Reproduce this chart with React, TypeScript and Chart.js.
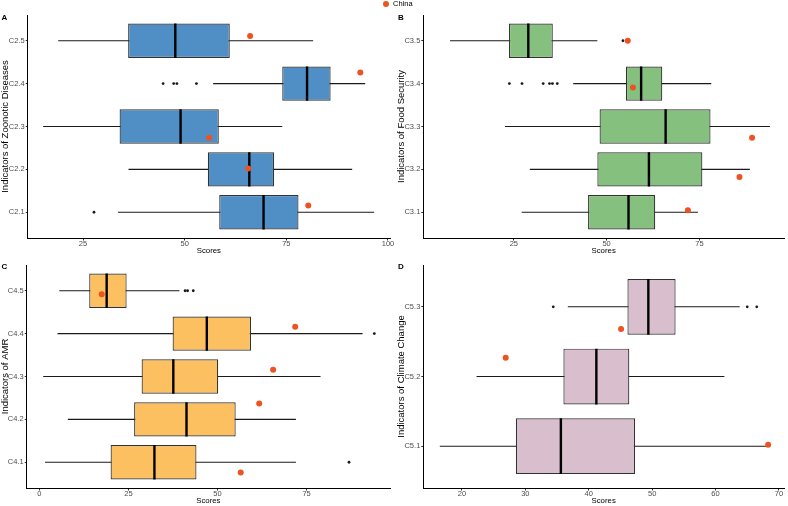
import React, { useEffect, useRef } from "react";
import { Chart, registerables } from "chart.js";
Chart.register(...registerables);

// ---------- Panel A: Zoonotic Diseases ----------
const catsA = ["C2.1", "C2.2", "C2.3", "C2.4", "C2.5"];
const lowA = [33.6, 36.2, 15.2, 57.0, 18.9];
const q1A = [58.5, 55.7, 34.0, 74.0, 36.1];
const medA = [69.4, 65.9, 49.0, 80.1, 47.7];
const q3A = [78.0, 72.0, 58.4, 85.9, 61.1];
const highA = [96.6, 91.2, 74.0, 94.4, 81.6];
const outA = [[27.7], [], [], [44.7, 47.3, 48.1, 52.9], []];
const chinaA = [80.4, 65.6, 56.0, 93.2, 66.1];
const jitA = [0.16, 0.02, -0.26, 0.26, 0.11];
const ticksA = [25, 50, 75, 100];

// ---------- Panel B: Food Security ----------
const catsB = ["C3.1", "C3.2", "C3.3", "C3.4", "C3.5"];
const lowB = [27.1, 29.3, 22.6, 41.0, 7.8];
const q1B = [45.0, 47.5, 48.1, 55.2, 23.7];
const medB = [55.9, 61.4, 65.9, 59.3, 28.9];
const q3B = [63.1, 75.8, 78.0, 65.0, 35.5];
const highB = [74.6, 88.6, 94.0, 78.2, 47.5];
const outB = [[], [], [], [23.8, 27.2, 32.9, 34.6, 35.4, 36.7], [54.4]];
const chinaB = [71.9, 85.8, 89.2, 57.1, 55.7];
const jitB = [0.05, -0.18, -0.26, -0.09, 0];
const ticksB = [25, 50, 75];

// ---------- Panel C: AMR ----------
const catsC = ["C4.1", "C4.2", "C4.3", "C4.4", "C4.5"];
const lowC = [1.6, 8.0, 1.1, 5.1, 5.6];
const q1C = [20.0, 26.6, 28.7, 37.4, 14.0];
const medC = [32.3, 41.3, 37.6, 47.0, 18.9];
const q3C = [44.1, 55.1, 50.2, 59.4, 24.5];
const highC = [72.0, 72.0, 78.9, 90.7, 39.3];
const outC = [[86.9], [], [], [94.0], [40.9, 41.6, 43.2]];
const chinaC = [56.5, 61.7, 65.6, 71.8, 17.5];
const jitC = [-0.24, 0.37, 0.16, 0.16, -0.08];
const ticksC = [0, 25, 50, 75];

// ---------- Panel D: Climate Change ----------
const catsD = ["C5.1", "C5.2", "C5.3"];
const lowD = [16.5, 22.3, 36.7];
const q1D = [28.5, 36.0, 46.1];
const medD = [35.6, 41.2, 49.4];
const q3D = [47.3, 46.4, 53.7];
const highD = [68.3, 61.4, 63.8];
const outD = [[], [], [34.4, 65.0, 66.5]];
const chinaD = [68.3, 26.9, 45.1];
const jitD = [0.02, 0.27, -0.32];
const ticksD = [20, 30, 40, 50, 60, 70];

const FONT = "'Liberation Sans', Arial, Helvetica, sans-serif";
const CHINA_COLOR = "#EC5321";

type Panel = {
  label: string;
  cats: string[];
  low: number[];
  q1: number[];
  med: number[];
  q3: number[];
  high: number[];
  out: number[][];
  china: number[];
  jit: number[];
  xTicks: number[];
  fill: string;
  title: string;
  xMin: number;
  xMax: number;
  left: number;
  top: number;
  width: number;
  height: number;
  pad: { left: number; top: number; right: number; bottom: number };
  yW: number;
  xH: number;
};

const panels: Panel[] = [
  {
    label: "A", cats: catsA, low: lowA, q1: q1A, med: medA, q3: q3A, high: highA, out: outA,
    china: chinaA, jit: jitA, xTicks: ticksA, fill: "#4F8FC6", title: "Indicators of Zoonotic Diseases",
    xMin: 11.4, xMax: 100.5, left: 0, top: 0, width: 394, height: 256,
    pad: { left: 0, top: 15, right: 3.5, bottom: 0 }, yW: 27.7, xH: 18,
  },
  {
    label: "B", cats: catsB, low: lowB, q1: q1B, med: medB, q3: q3B, high: highB, out: outB,
    china: chinaB, jit: jitB, xTicks: ticksB, fill: "#86C07E", title: "Indicators of Food Security",
    xMin: 0.6, xMax: 97.8, left: 396, top: 0, width: 392, height: 256,
    pad: { left: 0, top: 15, right: 3, bottom: 0 }, yW: 27.3, xH: 18,
  },
  {
    label: "C", cats: catsC, low: lowC, q1: q1C, med: medC, q3: q3C, high: highC, out: outC,
    china: chinaC, jit: jitC, xTicks: ticksC, fill: "#FDC060", title: "Indicators of AMR",
    xMin: -3.54, xMax: 98.4, left: 0, top: 257, width: 394, height: 249,
    pad: { left: 0, top: 8, right: 4, bottom: 0 }, yW: 26.7, xH: 18,
  },
  {
    label: "D", cats: catsD, low: lowD, q1: q1D, med: medD, q3: q3D, high: highD, out: outD,
    china: chinaD, jit: jitD, xTicks: ticksD, fill: "#D9BECE", title: "Indicators of Climate Change",
    xMin: 13.9, xMax: 70.8, left: 396, top: 257, width: 392, height: 249,
    pad: { left: 0, top: 8, right: 1.3, bottom: 0 }, yW: 27.3, xH: 18,
  },
];

function buildDatasets(p: Panel): any[] {
  const ds: any[] = [];
  p.cats.forEach((_, i) => {
    ds.push({
      type: "line",
      data: [
        { x: p.low[i], y: i + 1 },
        { x: p.high[i], y: i + 1 },
      ],
      borderColor: "#1a1a1a",
      borderWidth: 1.1,
      pointRadius: 0,
      fill: false,
      order: 3,
    });
  });
  ds.push({
    type: "bar",
    indexAxis: "y",
    data: p.cats.map((_, i) => ({ y: i + 1, x: [p.q1[i], p.q3[i]] })),
    backgroundColor: p.fill,
    borderColor: "#333333",
    borderWidth: 1.2,
    borderSkipped: false,
    barPercentage: 0.8,
    categoryPercentage: 1,
    order: 2,
  });
  p.cats.forEach((_, i) => {
    ds.push({
      type: "line",
      data: [
        { x: p.med[i], y: i + 1 - 0.4 },
        { x: p.med[i], y: i + 1 + 0.4 },
      ],
      borderColor: "#000000",
      borderWidth: 2.4,
      pointRadius: 0,
      fill: false,
      order: 1,
    });
  });
  ds.push({
    type: "scatter",
    data: p.out.flatMap((arr, i) => arr.map((v) => ({ x: v, y: i + 1 }))),
    pointRadius: 1.4,
    backgroundColor: "#1a1a1a",
    borderWidth: 0,
    order: 0,
  });
  ds.push({
    type: "scatter",
    data: p.china.map((v, i) => ({ x: v, y: i + 1 + p.jit[i] })),
    pointRadius: 3,
    backgroundColor: CHINA_COLOR,
    borderWidth: 0,
    order: -1,
  });
  return ds;
}

function ChartPanel({ p }: { p: Panel }) {
  const ref = useRef<HTMLCanvasElement>(null);
  useEffect(() => {
    if (!ref.current) return;
    const chart = new Chart(ref.current, {
      type: "bar",
      data: { datasets: buildDatasets(p) },
      options: {
        animation: false,
        responsive: false,
        layout: { padding: p.pad },
        plugins: { legend: { display: false }, tooltip: { enabled: false } },
        scales: {
          x: {
            type: "linear",
            position: "bottom",
            min: p.xMin,
            max: p.xMax,
            offset: false,
            afterBuildTicks: (s: any) => {
              s.ticks = p.xTicks.map((v) => ({ value: v }));
            },
            afterFit: (s: any) => {
              s.height = p.xH;
              s.paddingLeft = 0;
              s.paddingRight = 0;
            },
            ticks: {
              autoSkip: false,
              maxRotation: 0,
              padding: 0,
              color: "#4D4D4D",
              font: { family: FONT, size: 7.5, lineHeight: 1 },
              callback: (v: any) => String(v),
            },
            grid: {
              display: true,
              offset: false,
              drawOnChartArea: false,
              drawTicks: true,
              tickLength: 2.5,
              color: "#333333",
              lineWidth: 1,
            },
            border: { display: true, color: "#000000", width: 1 },
            title: {
              display: true,
              text: "Scores",
              color: "#000000",
              padding: 0,
              font: { family: FONT, size: 7.8, lineHeight: 1.2 },
            },
          },
          y: {
            type: "linear",
            position: "left",
            min: 0.4,
            max: p.cats.length + 0.6,
            offset: false,
            afterBuildTicks: (s: any) => {
              s.ticks = p.cats.map((_, i) => ({ value: i + 1 }));
            },
            afterFit: (s: any) => {
              s.width = p.yW;
              s.paddingTop = 0;
              s.paddingBottom = 0;
            },
            ticks: {
              autoSkip: false,
              padding: 1,
              color: "#4D4D4D",
              font: { family: FONT, size: 7.5, lineHeight: 1 },
              callback: (v: any) => p.cats[Math.round(Number(v)) - 1] ?? "",
            },
            grid: {
              display: true,
              offset: false,
              drawOnChartArea: false,
              drawTicks: true,
              tickLength: 2,
              color: "#333333",
              lineWidth: 1,
            },
            border: { display: true, color: "#000000", width: 1 },
            title: {
              display: true,
              text: p.title,
              color: "#000000",
              padding: 0,
              font: { family: FONT, size: 9.5, lineHeight: 1.05 },
            },
          },
        },
      } as any,
    });
    return () => chart.destroy();
  }, [p]);
  return (
    <canvas
      ref={ref}
      width={p.width}
      height={p.height}
      style={{ position: "absolute", left: p.left, top: p.top, width: p.width, height: p.height, display: "block" }}
    />
  );
}

export default function App() {
  return (
    <div
      style={{
        position: "absolute",
        left: 0,
        top: 0,
        width: 788,
        height: 506,
        background: "#ffffff",
        overflow: "hidden",
        fontFamily: FONT,
      }}
    >
      {panels.map((p) => (
        <ChartPanel key={p.label} p={p} />
      ))}
      {panels.map((p) => (
        <div
          key={"lbl" + p.label}
          style={{
            position: "absolute",
            left: p.left === 0 ? 1.5 : 398,
            top: p.top === 0 ? 13 : 262,
            fontSize: 8,
            fontWeight: "bold",
            lineHeight: "9px",
            color: "#000",
          }}
        >
          {p.label}
        </div>
      ))}
      <div style={{ position: "absolute", left: 382.5, top: 0.5, width: 6, height: 6, borderRadius: 3, background: CHINA_COLOR }} />
      <div style={{ position: "absolute", left: 393, top: -1, fontSize: 7.5, lineHeight: "9px", color: "#000" }}>China</div>
    </div>
  );
}
